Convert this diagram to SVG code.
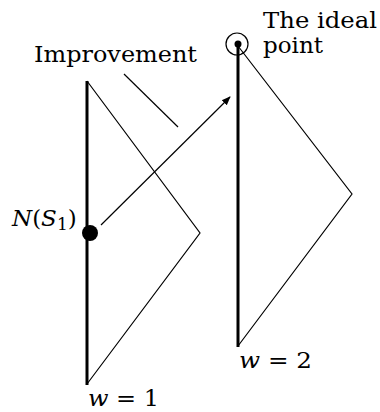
<svg xmlns="http://www.w3.org/2000/svg" width="380" height="412" viewBox="0 0 380 412">
<style>
.thick{stroke:#000;stroke-width:3;fill:none}
.thin{stroke:#000;stroke-width:1.2;fill:none}
.t{font-family:'DejaVu Serif','Liberation Serif',serif;font-size:23px;fill:#000}
</style>
<defs>
<marker id="ah" viewBox="0 0 10 10" refX="9" refY="5" markerWidth="9" markerHeight="9" markerUnits="userSpaceOnUse" orient="auto">
<path d="M0,1 L10,5 L0,9 Z" fill="#000"/>
</marker>
</defs>
<rect width="380" height="412" fill="#fff"/>
<g id="w1">
<line class="thick" x1="87" y1="81" x2="87" y2="385"/>
<polyline class="thin" points="87,81 200,233 87,384"/>
<text class="t" x="88" y="406" textLength="71" lengthAdjust="spacingAndGlyphs"><tspan font-style="italic">w</tspan> = 1</text>
</g>
<g id="w2">
<line class="thick" x1="238" y1="46" x2="238" y2="347"/>
<polyline class="thin" points="238,46 352,194 238,346"/>
<text class="t" x="239" y="368" textLength="73" lengthAdjust="spacingAndGlyphs"><tspan font-style="italic">w</tspan> = 2</text>
</g>
<g id="ideal">
<circle cx="237" cy="44" r="11" class="thin"/>
<circle cx="238" cy="44" r="3.5" fill="#000"/>
<text class="t" x="263" y="28" textLength="114" lengthAdjust="spacingAndGlyphs">The ideal</text>
<text class="t" x="263" y="53" textLength="60" lengthAdjust="spacingAndGlyphs">point</text>
</g>
<g id="ns1">
<text class="t" x="12" y="226" font-size="25"><tspan font-style="italic">N</tspan>(<tspan font-style="italic">S</tspan><tspan font-size="17" dy="4">1</tspan><tspan dy="-4">)</tspan></text>
<circle cx="90" cy="233" r="8" fill="#000"/>
</g>
<g id="improvement">
<text class="t" x="34" y="62" textLength="163" lengthAdjust="spacingAndGlyphs">Improvement</text>
</g>
<g id="connectors">
<line class="thin" x1="124" y1="74" x2="178" y2="127"/>
<line class="thin" x1="101" y1="225" x2="230" y2="97" marker-end="url(#ah)"/>
</g>
</svg>
